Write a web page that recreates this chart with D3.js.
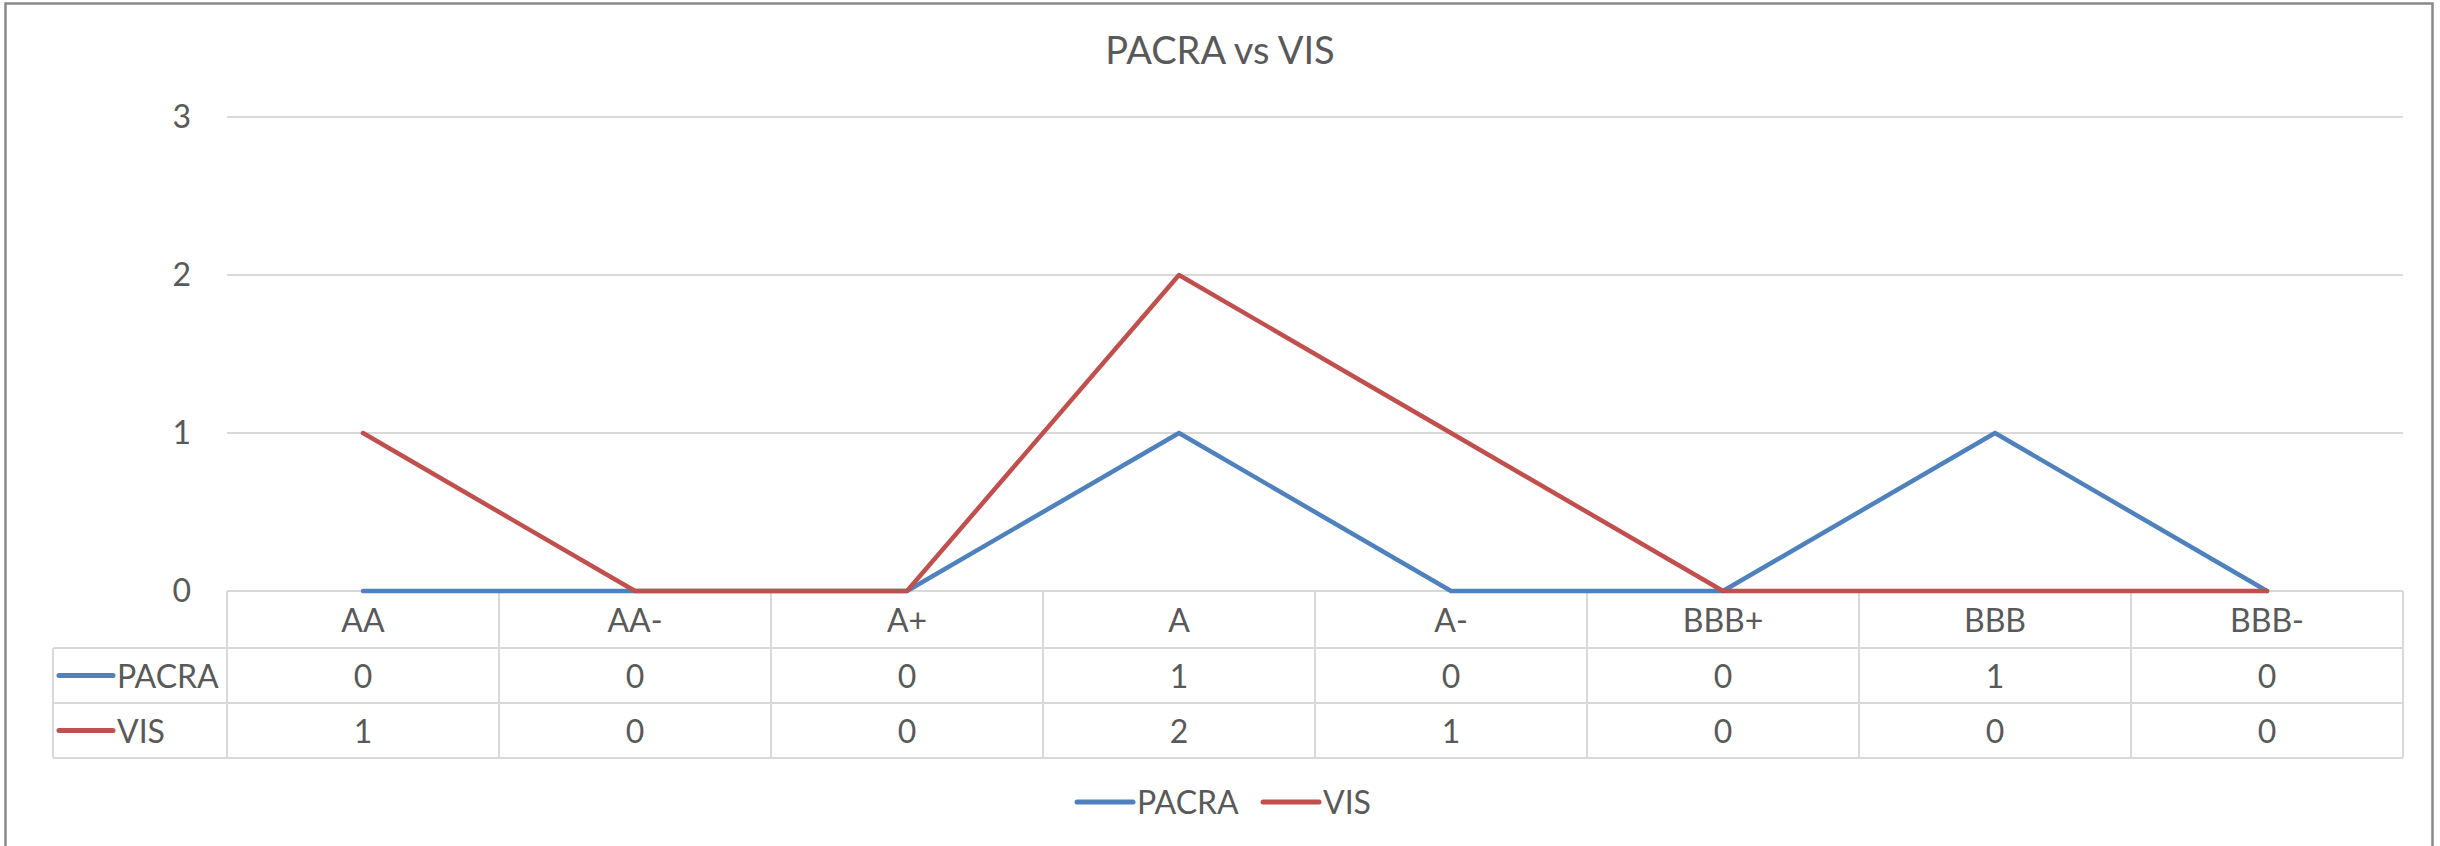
<!DOCTYPE html>
<html>
<head>
<meta charset="utf-8">
<script src="https://cdn.jsdelivr.net/npm/d3@7"></script>
<style>
  html, body { margin: 0; padding: 0; background: #fff; }
  svg { display: block; }
  text { font-family: Lato, "Open Sans", "Liberation Sans", sans-serif; fill: #595959; }
</style>
</head>
<body>
<script>
const categories = ["AA", "AA-", "A+", "A", "A-", "BBB+", "BBB", "BBB-"];
const pacraValues = [0, 0, 0, 1, 0, 0, 1, 0];
const visValues = [1, 0, 0, 2, 1, 0, 0, 0];
const seriesNames = ["PACRA", "VIS"];
const seriesColors = ["#4f81bd", "#c0504d"];
const yTicks = [0, 1, 2, 3];
const titleText = "PACRA vs VIS";

const W = 2440, H = 846;
const svg = d3.select("body").append("svg").attr("width", W).attr("height", H);

// Outer chart border
svg.append("rect")
  .attr("x", 5.5).attr("y", 3.5).attr("width", 2427).attr("height", 870)
  .attr("fill", "#fff").attr("stroke", "#898989").attr("stroke-width", 2.5);

const plotLeft = 227, plotRight = 2403, plotTop = 117, plotBottom = 591;
const x = d3.scaleBand().domain(categories).range([plotLeft, plotRight]);
const y = d3.scaleLinear().domain([0, 3]).range([plotBottom, plotTop]);
const cx = c => x(c) + x.bandwidth() / 2;
const fs = "32px";

// Title
svg.append("text").attr("x", W / 2).attr("y", 64)
  .attr("text-anchor", "middle").style("font-size", "38px").text(titleText);

// Gridlines
const gridColor = "#d9d9d9";
svg.append("g").selectAll("line").data(yTicks.filter(t => t > 0)).join("line")
  .attr("x1", plotLeft).attr("x2", plotRight)
  .attr("y1", d => y(d)).attr("y2", d => y(d))
  .attr("stroke", gridColor).attr("stroke-width", 2);

// Y axis via d3.axisLeft, styled
const yAxis = svg.append("g").attr("transform", `translate(${plotLeft},0)`)
  .call(d3.axisLeft(y).tickValues(yTicks).tickFormat(d3.format("d")).tickSize(0).tickPadding(36));
yAxis.select(".domain").remove();
yAxis.selectAll("text").style("font-size", fs).attr("fill", "#595959")
  .style("font-family", "Lato, 'Open Sans', sans-serif");

// Data table
const rowTop = [plotBottom, 648, 703];
const tableBottom = 758;
const legendLeft = 53;
const tbl = svg.append("g").attr("stroke", gridColor).attr("stroke-width", 2);
tbl.append("line").attr("x1", plotLeft).attr("x2", plotRight).attr("y1", rowTop[0]).attr("y2", rowTop[0]);
[rowTop[1], rowTop[2], tableBottom].forEach(yy => {
  tbl.append("line").attr("x1", legendLeft).attr("x2", plotRight).attr("y1", yy).attr("y2", yy);
});
const vx = categories.map(c => x(c)).concat([plotRight]);
vx.forEach(xx => {
  tbl.append("line").attr("x1", xx).attr("x2", xx).attr("y1", rowTop[0]).attr("y2", tableBottom);
});
tbl.append("line").attr("x1", legendLeft).attr("x2", legendLeft).attr("y1", rowTop[1]).attr("y2", tableBottom);

// Category labels
svg.append("g").selectAll("text").data(categories).join("text")
  .attr("x", d => cx(d)).attr("y", (rowTop[0] + rowTop[1]) / 2 + 12)
  .attr("text-anchor", "middle").style("font-size", fs).text(d => d);

// Series rows
const seriesData = [pacraValues, visValues];
seriesData.forEach((vals, i) => {
  const top = rowTop[i + 1];
  const bottom = i + 2 < rowTop.length ? rowTop[i + 2] : tableBottom;
  const mid = (top + bottom) / 2;
  svg.append("line").attr("x1", 59).attr("x2", 113).attr("y1", mid).attr("y2", mid)
    .attr("stroke", seriesColors[i]).attr("stroke-width", 5).attr("stroke-linecap", "round");
  svg.append("text").attr("x", 117).attr("y", mid + 12).style("font-size", fs).text(seriesNames[i]);
  svg.append("g").selectAll("text").data(vals).join("text")
    .attr("x", (d, j) => cx(categories[j])).attr("y", mid + 12)
    .attr("text-anchor", "middle").style("font-size", fs).text(d => d);
});

// Lines
const line = d3.line().x((d, j) => cx(categories[j])).y(d => y(d));
seriesData.forEach((vals, i) => {
  svg.append("path").datum(vals).attr("d", line)
    .attr("fill", "none").attr("stroke", seriesColors[i]).attr("stroke-width", 4.5)
    .attr("stroke-linejoin", "round").attr("stroke-linecap", "round");
});

// Legend
const legendY = 802;
const legendItems = [{ x: 1077, tx: 1137 }, { x: 1263, tx: 1323 }];
legendItems.forEach((it, i) => {
  svg.append("line").attr("x1", it.x).attr("x2", it.x + 56).attr("y1", legendY).attr("y2", legendY)
    .attr("stroke", seriesColors[i]).attr("stroke-width", 5).attr("stroke-linecap", "round");
  svg.append("text").attr("x", it.tx).attr("y", legendY + 12).style("font-size", fs).text(seriesNames[i]);
});
</script>
</body>
</html>
